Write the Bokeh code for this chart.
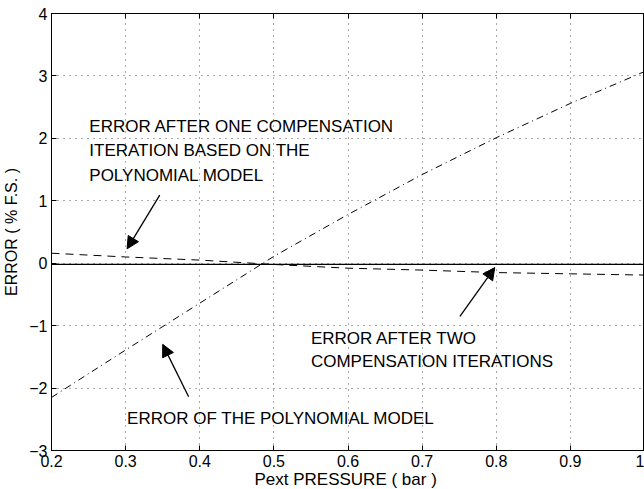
from bokeh.plotting import figure
from bokeh.models import (FixedTicker, LinearAxis, Label, Arrow, NormalHead, Range1d)
from bokeh.embed import file_html
from bokeh.resources import INLINE

# ---- data ----
pressure = [0.2, 0.3, 0.4, 0.5, 0.6, 0.7, 0.8, 0.9, 1.0]
err_model = [-2.15, -1.39, -0.64, 0.11, 0.78, 1.42, 2.01, 2.56, 3.07]
err_one_iter = [0.16, 0.10, 0.05, -0.02, -0.08, -0.11, -0.15, -0.17, -0.19]
err_two_iter = [-0.02, -0.02, -0.02, -0.02, -0.02, -0.02, -0.02, -0.02, -0.02]

x_ticks = [0.2, 0.3, 0.4, 0.5, 0.6, 0.7, 0.8, 0.9, 1.0]
x_tick_labels = ["0.2", "0.3", "0.4", "0.5", "0.6", "0.7", "0.8", "0.9", "1"]
y_ticks = [-3, -2, -1, 0, 1, 2, 3, 4]

# annotation texts and anchors (data coordinates)
note1_lines = ["ERROR AFTER ONE COMPENSATION", "ITERATION BASED ON THE", "POLYNOMIAL MODEL"]
note1_x = 0.251
note1_y = [2.19, 1.80, 1.41]
note2_lines = ["ERROR AFTER TWO", "COMPENSATION ITERATIONS"]
note2_x = 0.55
note2_y = [-1.20, -1.58]
note3_lines = ["ERROR OF THE POLYNOMIAL MODEL"]
note3_x = 0.302
note3_y = [-2.49]

# arrows: (x_start, y_start, x_end, y_end)
arrows = [
    (0.346, 1.09, 0.302, 0.23),
    (0.751, -0.85, 0.798, -0.07),
    (0.385, -2.14, 0.350, -1.30),
]

FONT = "Liberation Sans"

p = figure(width=644, height=491, output_backend="svg", toolbar_location=None,
           x_range=Range1d(0.2, 1.0), y_range=Range1d(-3, 4),
           min_border_left=49, min_border_right=0, min_border_top=13,
           min_border_bottom=40)
p.background_fill_color = "white"
p.border_fill_color = "white"
p.outline_line_color = "black"
p.outline_line_width = 1

# axes
for ax in (p.xaxis[0], p.yaxis[0]):
    ax.major_tick_in = 5
    ax.major_tick_out = 0
    ax.minor_tick_in = 0
    ax.minor_tick_out = 0
    ax.axis_line_color = "black"
    ax.major_tick_line_color = "black"
    ax.major_label_text_font = FONT
    ax.major_label_text_font_size = "16px"
    ax.major_label_text_color = "black"
    ax.axis_label_text_font = FONT
    ax.axis_label_text_font_style = "normal"
    ax.axis_label_text_color = "black"

p.xaxis[0].ticker = FixedTicker(ticks=x_ticks)
p.xaxis[0].major_label_overrides = {t: l for t, l in zip(x_ticks, x_tick_labels)}
p.xaxis[0].major_label_standoff = 4
p.xaxis[0].axis_label = "Pext PRESSURE  ( bar )"
p.xaxis[0].axis_label_text_font_size = "17px"
p.xaxis[0].axis_label_standoff = 0

p.yaxis[0].ticker = FixedTicker(ticks=y_ticks)
p.yaxis[0].major_label_standoff = 4
p.yaxis[0].axis_label = "ERROR ( % F.S. )"
p.yaxis[0].axis_label_text_font_size = "16px"
p.yaxis[0].axis_label_standoff = 6

top = LinearAxis(ticker=FixedTicker(ticks=x_ticks), major_tick_in=5, major_tick_out=0,
                 minor_tick_in=0, minor_tick_out=0, major_label_text_font_size="0px",
                 major_label_standoff=0, axis_line_color="black")
p.add_layout(top, "above")

# grid
for g in (p.xgrid[0], p.ygrid[0]):
    g.grid_line_color = "#555555"
    g.grid_line_dash = "1 5"
    g.grid_line_width = 1
p.xgrid[0].ticker = FixedTicker(ticks=x_ticks)
p.ygrid[0].ticker = FixedTicker(ticks=y_ticks)

# series
p.line(pressure, err_model, line_color="black", line_width=1, line_dash="7 4 1 4")
p.line(pressure, err_one_iter, line_color="black", line_width=1, line_dash="8 6")
p.line(pressure, err_two_iter, line_color="black", line_width=1.2)

# labels
for lines, xx, ys in ((note1_lines, note1_x, note1_y), (note2_lines, note2_x, note2_y),
                      (note3_lines, note3_x, note3_y)):
    for t, yy in zip(lines, ys):
        p.add_layout(Label(x=xx, y=yy, text=t, text_font=FONT, text_font_size="17px",
                           text_color="black", text_baseline="middle", text_align="left"))

for xs, ys, xe, ye in arrows:
    p.add_layout(Arrow(x_start=xs, y_start=ys, x_end=xe, y_end=ye, line_width=1.3,
                       line_color="black",
                       end=NormalHead(size=12, fill_color="black", line_color="black")))

open("out.html", "w").write(file_html(p, INLINE))
